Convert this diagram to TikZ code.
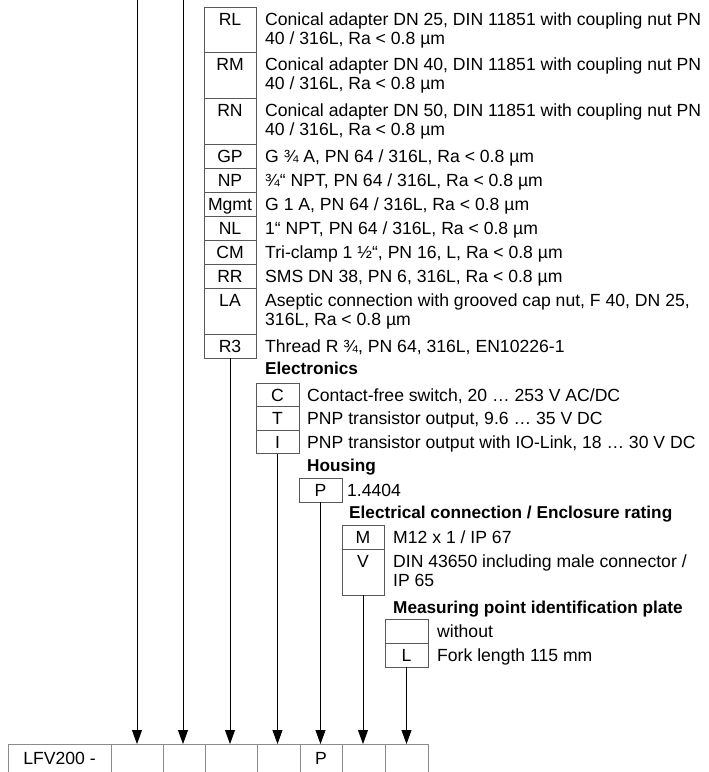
\documentclass[tikz,border=0pt]{standalone}
\usepackage{fontspec}
\setmainfont{Liberation Sans}
\usetikzlibrary{arrows.meta}
\newcommand{\fs}{\fontsize{17.6}{19}\selectfont}
\newcommand{\fsb}{\fontsize{17.2}{19}\selectfont\bfseries}
\tikzset{
  cell/.style={draw=black!65, line width=0.6pt, inner sep=0pt, outer sep=0pt, anchor=north west},
  tcell/.style={draw=black!45, line width=0.6pt, inner sep=0pt, outer sep=0pt, anchor=north west},
  txt/.style={anchor=base west, inner sep=0pt, font=\fs},
  code/.style={anchor=base, inner sep=0pt, font=\fs},
  hdr/.style={anchor=base west, inner sep=0pt, font=\fsb},
  feed/.style={line width=0.8pt, black, -{Triangle[width=10pt,length=14pt]}},
}
\begin{document}
\begin{tikzpicture}[x=1pt,y=1pt]
\useasboundingbox (0,0) rectangle (709,-772);
% ---------- connection column
\node[cell, minimum width=52, minimum height=45.7] (rl) at (204,-7) {};
\node[cell, minimum width=52, minimum height=45.6] (rm) at (204,-52.7) {};
\node[cell, minimum width=52, minimum height=45.7] (rn) at (204,-98.3) {};
\node[cell, minimum width=52, minimum height=24] (gp) at (204,-144) {};
\node[cell, minimum width=52, minimum height=24] (np) at (204,-168) {};
\node[cell, minimum width=52, minimum height=24] (mg) at (204,-192) {};
\node[cell, minimum width=52, minimum height=24] (nl) at (204,-216) {};
\node[cell, minimum width=52, minimum height=24] (cm) at (204,-240) {};
\node[cell, minimum width=52, minimum height=24] (rr) at (204,-264) {};
\node[cell, minimum width=52, minimum height=46] (la) at (204,-288) {};
\node[cell, minimum width=52, minimum height=24] (r3) at (204,-334) {};
\node[code] (crl) at (230,-25) {RL};
\node[code] (crm) at (230,-70.7) {RM};
\node[code] (crn) at (230,-116.3) {RN};
\node[code] (cgp) at (230,-162) {GP};
\node[code] (cnp) at (230,-186) {NP};
\node[code] (cmg) at (230,-210) {Mgmt};
\node[code] (cnl) at (230,-234) {NL};
\node[code] (ccm) at (230,-258) {CM};
\node[code] (crr) at (230,-282) {RR};
\node[code] (cla) at (230,-306) {LA};
\node[code] (cr3) at (230,-352) {R3};
\node[txt] (trl1) at (265,-25) {Conical adapter DN 25, DIN 11851 with coupling nut PN};
\node[txt] (trl2) at (265,-44) {40 / 316L, Ra < 0.8 µm};
\node[txt] (trm1) at (265,-70.7) {Conical adapter DN 40, DIN 11851 with coupling nut PN};
\node[txt] (trm2) at (265,-89.7) {40 / 316L, Ra < 0.8 µm};
\node[txt] (trn1) at (265,-116.3) {Conical adapter DN 50, DIN 11851 with coupling nut PN};
\node[txt] (trn2) at (265,-135.3) {40 / 316L, Ra < 0.8 µm};
\node[txt] (tgp) at (265,-162) {G ¾ A, PN 64 / 316L, Ra < 0.8 µm};
\node[txt] (tnp) at (265,-186) {¾“ NPT, PN 64 / 316L, Ra < 0.8 µm};
\node[txt] (tmg) at (265,-210) {G 1 A, PN 64 / 316L, Ra < 0.8 µm};
\node[txt] (tnl) at (265,-234) {1“ NPT, PN 64 / 316L, Ra < 0.8 µm};
\node[txt] (tcm) at (265,-258) {Tri-clamp 1 ½“, PN 16, L, Ra < 0.8 µm};
\node[txt] (trr) at (265,-282) {SMS DN 38, PN 6, 316L, Ra < 0.8 µm};
\node[txt] (tla1) at (265,-306) {Aseptic connection with grooved cap nut, F 40, DN 25,};
\node[txt] (tla2) at (265,-325) {316L, Ra < 0.8 µm};
\node[txt] (tr3) at (265,-352) {Thread R ¾, PN 64, 316L, EN10226-1};
% ---------- electronics
\node[hdr] (helec) at (265,-374) {Electronics};
\node[cell, minimum width=43, minimum height=23.5] (bc) at (256,-383) {};
\node[cell, minimum width=43, minimum height=23.5] (bt) at (256,-406.5) {};
\node[cell, minimum width=43, minimum height=23.5] (bi) at (256,-430) {};
\node[code] (cc) at (277.5,-401) {C};
\node[code] (ct) at (277.5,-424.5) {T};
\node[code] (ci) at (277.5,-448) {I};
\node[txt] (tc) at (307,-401) {Contact-free switch, 20 … 253 V AC/DC};
\node[txt] (tt) at (307,-424.5) {PNP transistor output, 9.6 … 35 V DC};
\node[txt] (ti) at (307,-448) {PNP transistor output with IO-Link, 18 … 30 V DC};
% ---------- housing
\node[hdr] (hhous) at (307,-471) {Housing};
\node[cell, minimum width=43, minimum height=24] (bp) at (299,-478) {};
\node[code] (cp) at (320.5,-496) {P};
\node[txt] (tp) at (347,-496) {1.4404};
% ---------- electrical connection
\node[hdr] (helc) at (349,-518) {Electrical connection / Enclosure rating};
\node[cell, minimum width=42, minimum height=24] (bm) at (342,-525) {};
\node[cell, minimum width=42, minimum height=46] (bv) at (342,-549) {};
\node[code] (cmm) at (363,-543) {M};
\node[code] (cv) at (363,-567) {V};
\node[txt] (tm) at (393,-543) {M12 x 1 / IP 67};
\node[txt] (tv1) at (393,-567) {DIN 43650 including male connector /};
\node[txt] (tv2) at (393,-586) {IP 65};
% ---------- plate
\node[hdr] (hmeas) at (393,-613) {Measuring point identification plate};
\node[cell, minimum width=43, minimum height=24] (bw) at (385,-619) {};
\node[cell, minimum width=43, minimum height=24] (bl) at (385,-643) {};
\node[code] (cl) at (406.5,-661) {L};
\node[txt] (tw) at (437,-637) {without};
\node[txt] (tl) at (437,-661) {Fork length 115 mm};
% ---------- type code row
\node[tcell, minimum width=103, minimum height=32] (k0) at (8,-744) {};
\node[tcell, minimum width=52, minimum height=32] (k1) at (111,-744) {};
\node[tcell, minimum width=42, minimum height=32] (k2) at (163,-744) {};
\node[tcell, minimum width=52, minimum height=32] (k3) at (205,-744) {};
\node[tcell, minimum width=43, minimum height=32] (k4) at (257,-744) {};
\node[tcell, minimum width=42, minimum height=32] (k5) at (300,-744) {};
\node[tcell, minimum width=43, minimum height=32] (k6) at (342,-744) {};
\node[tcell, minimum width=43, minimum height=32] (k7) at (385,-744) {};
\node[code] (lk0) at (59.5,-764) {LFV200 -};
\node[code] (lk5) at (321,-764) {P};
% ---------- feed lines
\coordinate (top1) at (137,3);
\coordinate (top2) at (183,3);
\draw[feed] (top1) -- (top1 |- k1.north);
\draw[feed] (top2) -- (top2 |- k2.north);
\draw[feed] (r3.south) -- (r3.south |- k3.north);
\draw[feed] (bi.south) -- (bi.south |- k4.north);
\draw[feed] (bp.south) -- (bp.south |- k5.north);
\draw[feed] (bv.south) -- (bv.south |- k6.north);
\draw[feed] (bl.south) -- (bl.south |- k7.north);
\end{tikzpicture}
\end{document}
